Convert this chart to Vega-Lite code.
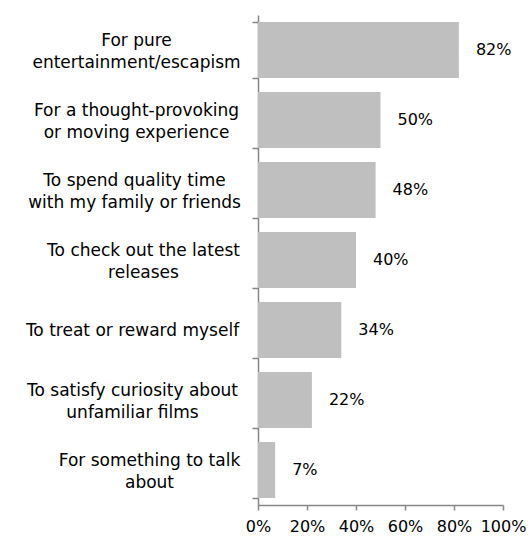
{
  "$schema": "https://vega.github.io/schema/vega-lite/v6.json",
  "width": 245,
  "height": 490,
  "autosize": {"type": "none"},
  "padding": {"left": 258, "top": 15, "right": 26, "bottom": 31},
  "background": "white",
  "config": {"view": {"stroke": null}},
  "data": {
    "values": [
      {"reason": "For pure|entertainment/escapism", "share": 0.82},
      {"reason": "For a thought-provoking|or moving experience", "share": 0.50},
      {"reason": "To spend quality time|with my family or friends", "share": 0.48},
      {"reason": "To check out the latest|releases", "share": 0.40},
      {"reason": "To treat or reward myself", "share": 0.34},
      {"reason": "To satisfy curiosity about|unfamiliar films", "share": 0.22},
      {"reason": "For something to talk|about", "share": 0.07}
    ]
  },
  "encoding": {
    "y": {
      "field": "reason",
      "type": "nominal",
      "sort": null,
      "scale": {"paddingInner": 0.2, "paddingOuter": 0.1},
      "axis": {
        "title": null,
        "labelExpr": "split(datum.label, '|')",
        "labelFont": "DejaVu Sans",
        "labelFontSize": 17,
        "labelColor": "#000000",
        "labelLineHeight": 22,
        "labelAlign": "center",
        "labelBaseline": "middle",
        "labelLimit": 400,
        "labelOffset": {
          "condition": {"test": "datum.value == 'To treat or reward myself'", "value": 0},
          "value": -10
        },
        "labelPadding": {
          "condition": [
            {"test": "datum.value == 'For pure|entertainment/escapism'", "value": 116},
            {"test": "datum.value == 'For a thought-provoking|or moving experience'", "value": 116},
            {"test": "datum.value == 'To spend quality time|with my family or friends'", "value": 118},
            {"test": "datum.value == 'To check out the latest|releases'", "value": 109},
            {"test": "datum.value == 'To treat or reward myself'", "value": 120},
            {"test": "datum.value == 'To satisfy curiosity about|unfamiliar films'", "value": 120}
          ],
          "value": 103
        },
        "tickBand": "extent",
        "tickSize": 6,
        "tickColor": "#868686",
        "domainColor": "#868686",
        "domainWidth": 1.5,
        "tickWidth": 1.5
      }
    }
  },
  "layer": [
    {
      "mark": {"type": "bar", "color": "#BFBFBF"},
      "encoding": {
        "x": {
          "field": "share",
          "type": "quantitative",
          "scale": {"domain": [0, 1], "nice": false},
          "axis": {
            "title": null,
            "values": [0, 0.2, 0.4, 0.6, 0.8, 1],
            "format": ".0%",
            "grid": false,
            "labelFont": "DejaVu Sans",
            "labelFontSize": 16,
            "labelColor": "#000000",
            "labelFlush": false,
            "labelPadding": 8,
            "tickSize": 5,
            "tickColor": "#868686",
            "domainColor": "#868686",
            "domainWidth": 1.5,
            "tickWidth": 1.5
          }
        }
      }
    },
    {
      "mark": {"type": "text", "align": "left", "baseline": "middle", "dx": 17, "font": "DejaVu Sans", "fontSize": 16, "color": "#000000"},
      "encoding": {
        "x": {"field": "share", "type": "quantitative"},
        "text": {"field": "share", "type": "quantitative", "format": ".0%"}
      }
    }
  ]
}
